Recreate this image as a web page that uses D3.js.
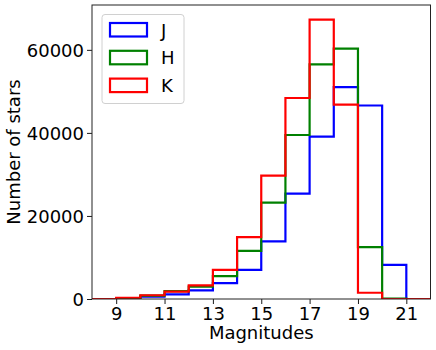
<!DOCTYPE html>
<html><head><meta charset="utf-8">
<script src="https://cdn.jsdelivr.net/npm/d3@7"></script>
<style>body{margin:0;background:#fff}svg{display:block;font-family:"DejaVu Sans",sans-serif}</style>
</head><body><svg id="c" width="436" height="350"></svg>
<script>
// bin edges (magnitudes) and counts per bin [edge_i, edge_i+1)
const binEdges = [9,10,11,12,13,14,15,16,17,18,19,20,21];
const countsJ = [0, 550, 1100, 2100, 3800, 7000, 13900, 25400, 39100, 51000, 46600, 8200];
const countsH = [150, 800, 1900, 3000, 5500, 11600, 23200, 39500, 56500, 60300, 12500, 100];
const countsK = [300, 900, 1800, 3300, 7000, 14900, 29700, 48400, 67300, 46800, 1500, 0];
const seriesNames = ["J","H","K"];
const seriesColors = ["#0000ff","#008000","#ff0000"];
const xTicks = [9,11,13,15,17,19,21];
const yTicks = [0,20000,40000,60000];
const xDomain = [8,22];
const yMax = 70800;

const svg = d3.select("#c");
const m = {l:92, r:430.5, t:5, b:299};
const x = d3.scaleLinear().domain(xDomain).range([m.l, m.r]);
const y = d3.scaleLinear().domain([0,yMax]).range([m.b, m.t]);

svg.append("defs").append("clipPath").attr("id","clip")
  .append("rect").attr("x",m.l).attr("y",m.t).attr("width",m.r-m.l).attr("height",m.b-m.t);

const allCounts = [countsJ, countsH, countsK];
const g = svg.append("g").attr("clip-path","url(#clip)");
allCounts.forEach((counts,si)=>{
  const pts = [[xDomain[0]-1,0],[binEdges[0],0]];
  counts.forEach((c,i)=>{ pts.push([binEdges[i],c]); pts.push([binEdges[i+1],c]); });
  pts.push([binEdges[binEdges.length-1],0]);
  pts.push([xDomain[1]+1,0]);
  g.append("path")
    .attr("d", d3.line().x(d=>x(d[0])).y(d=>y(d[1]))(pts))
    .attr("fill","none").attr("stroke",seriesColors[si]).attr("stroke-width",2.2)
    .attr("stroke-linejoin","miter");
});

// axes
const xa = svg.append("g").attr("transform",`translate(0,${m.b})`)
  .call(d3.axisBottom(x).tickValues(xTicks).tickSize(5).tickPadding(3).tickFormat(d3.format("d")));
const ya = svg.append("g").attr("transform",`translate(${m.l},0)`)
  .call(d3.axisLeft(y).tickValues(yTicks).tickSize(5).tickPadding(3).tickFormat(d3.format("d")));
[xa,ya].forEach(a=>{
  a.select(".domain").remove();
  a.selectAll("text").attr("font-size",18).attr("fill","#000").attr("font-family","DejaVu Sans");
  a.selectAll("line").attr("stroke","#000").attr("stroke-width",0.9);
});
xa.selectAll("text").attr("dy","0.71em");
ya.selectAll("text").attr("dy","0.35em");

svg.append("rect").attr("x",m.l).attr("y",m.t).attr("width",m.r-m.l).attr("height",m.b-m.t)
  .attr("fill","none").attr("stroke","#222").attr("stroke-width",1);

svg.append("text").attr("x",(m.l+m.r)/2).attr("y",339).attr("text-anchor","middle")
  .attr("font-size",18).text("Magnitudes");
svg.append("text").attr("transform",`translate(19.5,${(m.t+m.b)/2}) rotate(-90)`)
  .attr("text-anchor","middle").attr("font-size",18).text("Number of stars");

// legend
const lg = svg.append("g");
lg.append("rect").attr("x",102).attr("y",14.5).attr("width",82).attr("height",89).attr("rx",3)
  .attr("fill","#fff").attr("fill-opacity",0.8).attr("stroke","#d0d0d0").attr("stroke-width",1);
seriesNames.forEach((n,i)=>{
  const yy = 23 + i*27.8;
  lg.append("rect").attr("x",110).attr("y",yy).attr("width",37).attr("height",13.5)
    .attr("fill","none").attr("stroke",seriesColors[i]).attr("stroke-width",2.2);
  lg.append("text").attr("x",161).attr("y",yy+13.5).attr("font-size",18).text(n);
});
</script></body></html>
